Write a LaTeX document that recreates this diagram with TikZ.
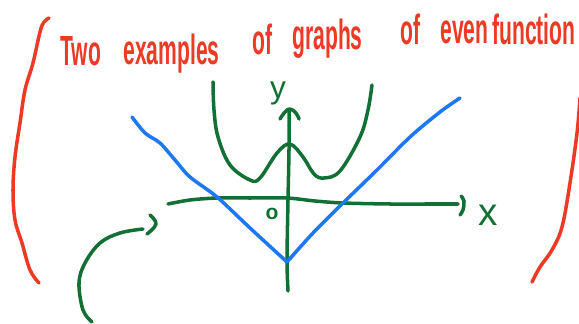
\documentclass[tikz,border=0pt]{standalone}
\usepackage{fontspec}
\setmainfont{Liberation Sans}
\definecolor{inkred}{RGB}{236,58,36}
\definecolor{inkgreen}{RGB}{18,112,52}
\definecolor{inkblue}{RGB}{30,120,245}
\newcommand{\narrowword}[1]{\scalebox{0.5}[1]{#1}}
\begin{document}
\begin{tikzpicture}[x=0.02cm,y=-0.02cm,
  pen/.style={line width=2pt,line cap=round,line join=round},
  redpen/.style={pen,draw=inkred},
  greenpen/.style={pen,draw=inkgreen},
  bluepen/.style={pen,draw=inkblue},
  word/.style={anchor=base west,inner sep=0,text=inkred,font=\fontsize{24}{24}\selectfont\bfseries}]
\useasboundingbox (0,0) rectangle (579,324);
% title, word by word
\node[word] (w1) at (60,66)  {\narrowword{Two}};
\node[word] (w2) at (123,65) {\narrowword{examples}};
\node[word] (w3) at (252,55) {\narrowword{of}};
\node[word] (w4) at (292,50) {\narrowword{graphs}};
\node[word] (w5) at (400,45) {\narrowword{of}};
\node[word] (w6) at (440,44) {\narrowword{even}};
\node[word] (w7) at (492,45) {\narrowword{function}};
% brackets
\draw[redpen] plot[smooth,tension=0.6] coordinates {(49,18) (44,22) (40,32) (33,63) (25,90) (20,123) (15,157) (13,190) (15,220) (22,243) (30,270) (39,283)};
\draw[redpen] plot[smooth,tension=0.6] coordinates {(580,98) (577,133) (570,183) (562,227) (552,250) (540,267) (532,282)};
% axes
\draw[greenpen] plot[smooth,tension=0.5] coordinates {(288,291) (287,260) (288,200) (289,150) (289,110)};
\draw[greenpen] plot[smooth,tension=0.7] coordinates {(280,119) (285,112) (290,109) (296,113) (299,119)};
\draw[greenpen] plot[smooth,tension=0.5] coordinates {(168,204) (190,200) (217,198) (250,198) (287,198) (315,201) (343,203) (390,204) (430,204) (458,204)};
\draw[greenpen] plot[smooth,tension=0.7] coordinates {(461,196) (464,201) (463,210) (460,215)};
% labels
\node[text=inkgreen,inner sep=0,font=\fontsize{18}{18}\selectfont] (ylab) at (278,93) {y};
\node[text=inkgreen,inner sep=0,font=\fontsize{22}{22}\selectfont] (xlab) at (488,215) {x};
\node[text=inkgreen,inner sep=0,font=\fontsize{12}{12}\selectfont\bfseries] (olab) at (272,214) {o};
% quartic-like curve
\draw[greenpen] plot[smooth,tension=0.6] coordinates {(213,82) (214,110) (218,137) (230,165) (250,180) (260,178) (277,153) (290,144) (303,157) (314,174) (324,178) (340,171) (360,137) (368,110) (372,85)};
% blue V
\draw[bluepen] plot[smooth,tension=0.5] coordinates {(132,117) (145,133) (160,143) (175,160) (190,177) (217,197) (250,228) (287,262)};
\draw[bluepen] plot[smooth,tension=0.5] coordinates {(287,262) (313,233) (343,203) (377,170) (410,137) (440,112) (460,98)};
% lower-left green flourish
\draw[greenpen] plot[smooth,tension=0.7] coordinates {(150,215) (156,224) (147,234)};
\draw[greenpen] plot[smooth,tension=0.6] coordinates {(143,229) (120,233) (100,243) (85,263) (79,283) (83,310) (92,322)};
\end{tikzpicture}
\end{document}
